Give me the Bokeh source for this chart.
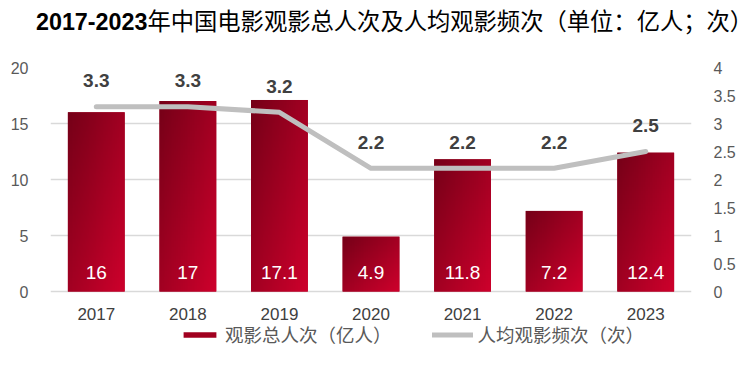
import numpy as np
from bokeh.plotting import figure
from bokeh.layouts import column
from bokeh.models import (Range1d, LinearAxis, FixedTicker, ColumnDataSource, LabelSet,
                          Legend, LegendItem, Div)
from bokeh.core.properties import value
from bokeh.embed import file_html
from bokeh.resources import INLINE

# ---- data ----
years = ["2017", "2018", "2019", "2020", "2021", "2022", "2023"]
admissions = [16, 17, 17.1, 4.9, 11.8, 7.2, 12.4]          # 观影总人次（亿人）
frequency = [3.3, 3.3, 3.2, 2.2, 2.2, 2.2, 2.5]             # 人均观影频次（次）
left_ticks = [0, 5, 10, 15, 20]
right_ticks = [0, 0.5, 1, 1.5, 2, 2.5, 3, 3.5, 4]

title_num = "2017-2023"
title_rest = "年中国电影观影总人次及人均观影频次（单位：亿人；次）"
bar_name = "观影总人次（亿人）"
line_name = "人均观影频次（次）"

W = 738
TITLE_H = 40
FIG_H = 325

title = Div(text=(f'<div style="width:{W}px;box-sizing:border-box;padding-left:36px;'
                  f'text-align:center;white-space:nowrap;'
                  f'line-height:{TITLE_H}px;color:black;font-size:23.3px;">'
                  f'<span style="font-family:\'Liberation Sans\';font-weight:bold;">{title_num}</span>'
                  f'<span style="font-family:\'Noto Sans CJK SC\';font-weight:normal;">{title_rest}</span></div>'),
            width=W, height=TITLE_H, margin=(0, 0, 0, 0))

# ---- figure ----
# frame: y=20 at its top, extends below 0 to hold year labels and legend
p = figure(width=W, height=FIG_H, output_backend="svg", toolbar_location=None,
           x_range=Range1d(-0.5, 6.5), y_range=Range1d(-6.6, 20),
           x_axis_location=None,
           min_border_left=50, min_border_right=45, min_border_top=27, min_border_bottom=0,
           margin=(0, 0, 0, 0))
p.extra_y_ranges = {"freq": Range1d(-1.32, 4)}
p.outline_line_color = None
p.background_fill_color = "white"
p.border_fill_color = "white"

xs = list(range(len(years)))
bw = 0.62

src = ColumnDataSource(dict(x=xs, top=admissions, freq=frequency, year=years,
                            lab_bar=[f"{v:g}" for v in admissions],
                            lab_line=[f"{v:g}" for v in frequency],
                            zero=[0]*len(xs)))
bars = p.vbar(x="x", top="top", width=bw, source=src, fill_color="#a1001f", line_color=None)

# gradient overlay images (top-left dark -> bottom-right bright)
dark = np.array([118, 0, 24], dtype=float)
bright = np.array([206, 0, 44], dtype=float)
GH, GW = 64, 32
u = np.linspace(0, 1, GW)[None, :]
d = 1 - np.linspace(0, 1, GH)[:, None]   # row 0 = bottom
t = (u + d) / 2
rgb = dark[None, None, :] * (1 - t[..., None]) + bright[None, None, :] * t[..., None]
img = np.zeros((GH, GW), dtype=np.uint32)
view = img.view(dtype=np.uint8).reshape((GH, GW, 4))
view[..., 0] = rgb[..., 0].astype(np.uint8)
view[..., 1] = rgb[..., 1].astype(np.uint8)
view[..., 2] = rgb[..., 2].astype(np.uint8)
view[..., 3] = 255
p.image_rgba(image=[img]*len(xs), x=[x - bw/2 for x in xs], y=[0]*len(xs),
             dw=[bw]*len(xs), dh=admissions)

ln = p.line(x="x", y="freq", source=src, y_range_name="freq", line_color="#bfbfbf",
            line_width=5, line_join="round", line_cap="round")

p.add_layout(LabelSet(x="x", y="freq", text="lab_line", source=src, y_range_name="freq",
                      y_offset=26, text_align="center", text_baseline="middle",
                      text_font=value("Liberation Sans"), text_font_style="bold",
                      text_font_size="19px", text_color="#404040"))
p.add_layout(LabelSet(x="x", y="zero", text="lab_bar", source=src,
                      y_offset=19, text_align="center", text_baseline="middle",
                      text_font=value("Liberation Sans"), text_font_size="19px",
                      text_color="white"))
# category labels (x axis)
p.add_layout(LabelSet(x="x", y="zero", text="year", source=src,
                      y_offset=-22, text_align="center", text_baseline="middle",
                      text_font=value("Liberation Sans"), text_font_size="17px",
                      text_color="#404040"))

p.yaxis.ticker = FixedTicker(ticks=left_ticks)
ra = LinearAxis(y_range_name="freq", ticker=FixedTicker(ticks=right_ticks))
p.add_layout(ra, "right")
for ax in (p.yaxis[0], ra):
    ax.axis_line_color = None
    ax.major_tick_line_color = None
    ax.minor_tick_line_color = None
    ax.major_label_text_font = "Liberation Sans"
    ax.major_label_text_font_size = "16px"
    ax.major_label_text_color = "#595959"
    ax.major_label_standoff = 16

p.xgrid.grid_line_color = None
p.ygrid.grid_line_color = "#d9d9d9"
p.ygrid.grid_line_width = 1.5

legend = Legend(items=[LegendItem(label=bar_name, renderers=[bars]),
                       LegendItem(label=line_name, renderers=[ln])],
                orientation="horizontal", location=(129, 18),
                glyph_width=41, glyph_height=7, label_standoff=5, spacing=40,
                padding=0, margin=0, border_line_alpha=0, background_fill_alpha=0,
                label_text_font="Noto Sans CJK SC", label_text_font_size="18.5px",
                label_text_color="#595959")
p.add_layout(legend, "center")

layout = column(title, p, spacing=0, margin=(0, 0, 0, 0))
open("out.html", "w").write(file_html(layout, INLINE))
